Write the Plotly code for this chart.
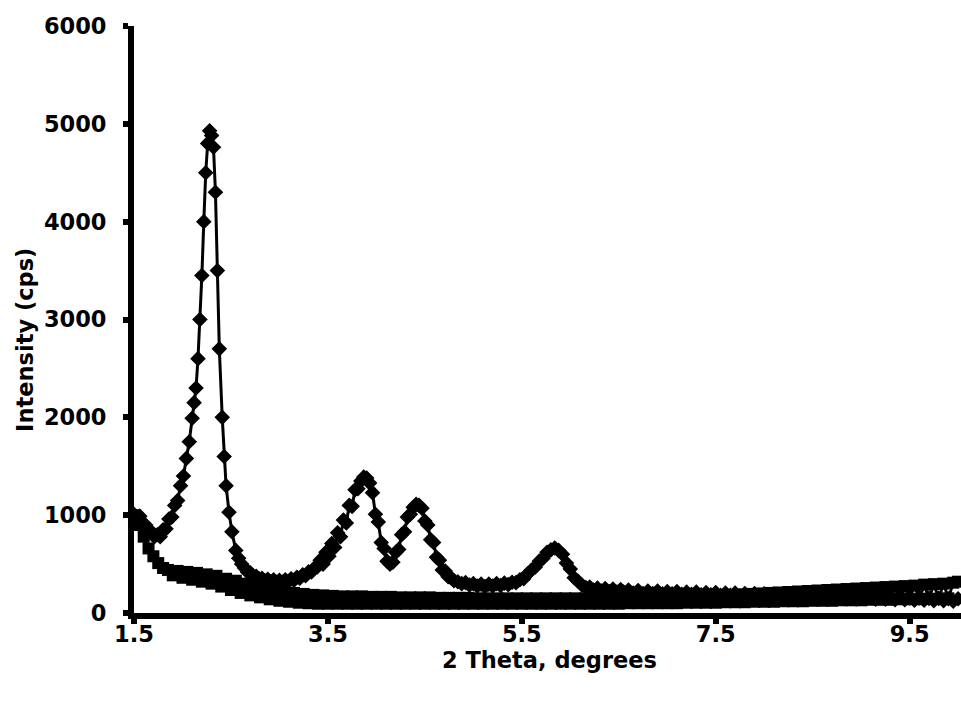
import plotly.graph_objects as go

# Diamond series: sample pattern with reflections near 2.3, 3.9, 4.45 and 5.85 deg
two_theta_a = [
    1.50, 1.53, 1.56, 1.59, 1.62, 1.65, 1.68, 1.71, 1.74, 1.77,
    1.80, 1.83, 1.86, 1.89, 1.92, 1.95, 1.98, 2.01, 2.04, 2.07,
    2.10, 2.12, 2.14, 2.16, 2.18, 2.20, 2.22, 2.24, 2.26, 2.28,
    2.30, 2.32, 2.34, 2.36, 2.38, 2.41, 2.43, 2.45, 2.48, 2.51,
    2.55, 2.58, 2.61, 2.64, 2.67, 2.70, 2.73, 2.76, 2.79, 2.82,
    2.85, 2.88, 2.91, 2.94, 2.97, 3.00, 3.03, 3.06, 3.09, 3.12,
    3.15, 3.18, 3.21, 3.24, 3.27, 3.30, 3.33, 3.36, 3.39, 3.42,
    3.45, 3.48, 3.51, 3.54, 3.57, 3.60, 3.63, 3.66, 3.69, 3.72,
    3.75, 3.78, 3.81, 3.84, 3.87, 3.90, 3.93, 3.96, 3.99, 4.02,
    4.05, 4.08, 4.11, 4.14, 4.17, 4.20, 4.23, 4.26, 4.29, 4.32,
    4.35, 4.38, 4.41, 4.44, 4.47, 4.50, 4.53, 4.56, 4.59, 4.62,
    4.65, 4.68, 4.71, 4.74, 4.77, 4.80, 4.84, 4.88, 4.92, 4.96,
    5.00, 5.04, 5.08, 5.12, 5.16, 5.20, 5.24, 5.28, 5.32, 5.36,
    5.40, 5.44, 5.48, 5.52, 5.56, 5.60, 5.64, 5.68, 5.72, 5.76,
    5.80, 5.84, 5.88, 5.92, 5.96, 6.00, 6.04, 6.08, 6.12, 6.16,
    6.20, 6.24, 6.28, 6.32, 6.36, 6.40, 6.44, 6.48, 6.52, 6.55,
    6.60, 6.65, 6.70, 6.75, 6.80, 6.85, 6.90, 6.95, 7.00, 7.05,
    7.10, 7.15, 7.20, 7.25, 7.30, 7.35, 7.40, 7.45, 7.50, 7.55,
    7.60, 7.65, 7.70, 7.75, 7.80, 7.85, 7.90, 7.95, 8.00, 8.05,
    8.10, 8.15, 8.20, 8.25, 8.30, 8.35, 8.40, 8.45, 8.50, 8.55,
    8.60, 8.65, 8.70, 8.75, 8.80, 8.85, 8.90, 8.95, 9.00, 9.05,
    9.10, 9.15, 9.20, 9.25, 9.30, 9.35, 9.40, 9.45, 9.50, 9.55,
    9.60, 9.65, 9.70, 9.75, 9.80, 9.85, 9.90, 9.95, 10.00,
]
counts_a = [
    1010, 960, 990, 920, 900, 850, 830, 780, 800, 780,
    850, 860, 960, 980, 1100, 1150, 1300, 1400, 1580, 1750,
    1990, 2150, 2300, 2600, 3000, 3450, 4000, 4500, 4800, 4930,
    4880, 4760, 4300, 3500, 2700, 2000, 1600, 1300, 1030, 830,
    640, 560, 500, 460, 420, 410, 380, 375, 350, 355,
    330, 345, 320, 340, 315, 335, 315, 340, 320, 350,
    335, 365, 355, 390, 380, 420, 420, 460, 470, 540,
    500, 620, 580, 710, 670, 820, 780, 950, 920, 1100,
    1090, 1260, 1270, 1350, 1390, 1380, 1330, 1230, 1010, 930,
    720, 660, 530, 500, 520, 620, 650, 800, 830, 980,
    1010, 1080, 1110, 1100, 1070, 940, 900, 750, 720, 570,
    540, 440, 430, 370, 360, 330, 320, 300, 310, 285,
    300, 275, 295, 270, 295, 275, 300, 280, 305, 290,
    315, 310, 340, 350, 400, 440, 470, 530, 560, 620,
    645, 665, 640, 600, 510, 450, 360, 325, 285, 260,
    265, 235, 255, 225, 250, 220, 245, 215, 240, 215,
    235, 205, 230, 200, 225, 200, 225, 195, 220, 195,
    220, 190, 215, 190, 215, 185, 210, 185, 210, 180,
    205, 180, 205, 175, 200, 175, 200, 170, 195, 170,
    190, 165, 190, 165, 185, 160, 185, 160, 180, 155,
    180, 155, 175, 150, 175, 150, 170, 145, 170, 145,
    165, 140, 165, 140, 160, 135, 160, 135, 155, 130,
    155, 130, 150, 125, 150, 125, 145, 120, 145,
]

# Square series: background scan, 0.05 deg steps from 1.50 to 10.00
two_theta_b = [round(1.5 + 0.05 * i, 2) for i in range(171)]
counts_b = [
    1000, 900, 780, 660, 580, 510, 460, 440, 385, 430,   # 1.50-1.95
    360, 420, 340, 410, 320, 395, 300, 380, 270, 350,    # 2.00-2.45
    235, 330, 205, 300, 180, 270, 160, 250, 140, 235,    # 2.50-2.95
    125, 220, 115, 205, 105, 195, 100, 185, 95, 180,     # 3.00-3.45
    95, 175, 95, 170, 95, 170, 95, 170, 95, 165,         # 3.50-3.95
    95, 165, 95, 165, 95, 160, 95, 160, 95, 160,         # 4.00-4.45
    95, 160, 95, 155, 95, 155, 95, 155, 95, 155,         # 4.50-4.95
    95, 150, 95, 150, 95, 150, 95, 150, 95, 150,         # 5.00-5.45
    95, 150, 95, 150, 95, 150, 95, 150, 95, 150,         # 5.50-5.95
    95, 150, 95, 150, 95, 150, 95, 155, 95, 155,         # 6.00-6.45
    95, 155, 100, 160, 100, 160, 100, 160, 100, 165,     # 6.50-6.95
    100, 165, 100, 170, 105, 170, 105, 175, 105, 180,    # 7.00-7.45
    105, 180, 110, 185, 110, 190, 110, 195, 115, 200,    # 7.50-7.95
    115, 205, 115, 210, 120, 215, 120, 220, 120, 225,    # 8.00-8.45
    125, 230, 125, 235, 125, 240, 130, 245, 130, 250,    # 8.50-8.95
    130, 255, 135, 260, 135, 265, 135, 270, 140, 275,    # 9.00-9.45
    140, 280, 140, 290, 145, 295, 145, 300, 150, 310,    # 9.50-9.95
    320,                                                 # 10.00
]

x_ticks = [1.5, 3.5, 5.5, 7.5, 9.5]
y_ticks = [0, 1000, 2000, 3000, 4000, 5000, 6000]

label_font = dict(family="DejaVu Sans", size=22.5, color="black", weight="bold")

fig = go.Figure()
fig.add_trace(go.Scatter(
    x=two_theta_b, y=counts_b, mode="lines+markers",
    line=dict(color="black", width=3),
    marker=dict(symbol="square", size=12, color="black"),
    cliponaxis=False, showlegend=False,
))
fig.add_trace(go.Scatter(
    x=two_theta_a, y=counts_a, mode="lines+markers",
    line=dict(color="black", width=3),
    marker=dict(symbol="diamond", size=12, color="black"),
    cliponaxis=False, showlegend=False,
))

axis_common = dict(
    showline=True, linecolor="black", linewidth=6,
    ticks="outside", ticklen=5, tickwidth=6, tickcolor="black",
    showgrid=False, zeroline=False, tickfont=label_font,
)

fig.update_layout(
    width=961, height=703,
    margin=dict(l=134, r=0, t=26, b=90),
    paper_bgcolor="white", plot_bgcolor="white",
    xaxis=dict(
        range=[1.5, 10.03], tickvals=x_ticks,
        ticktext=[f"{v:.1f}" for v in x_ticks],
        ticklabelstandoff=-9,
        **axis_common,
    ),
    yaxis=dict(
        range=[0, 6000], tickvals=y_ticks,
        ticktext=[str(v) for v in y_ticks],
        ticklabelstandoff=12,
        **axis_common,
    ),
    annotations=[
        # axis titles
        dict(text="2 Theta, degrees", font=label_font, showarrow=False,
             xref="paper", yref="paper", x=0.503, y=-0.080,
             xanchor="center", yanchor="middle"),
        dict(text="Intensity (cps)", font=label_font, showarrow=False,
             xref="paper", yref="paper", x=-0.132, y=0.465, textangle=-90,
             xanchor="center", yanchor="middle"),
    ],
)

fig.write_html("out.html")
